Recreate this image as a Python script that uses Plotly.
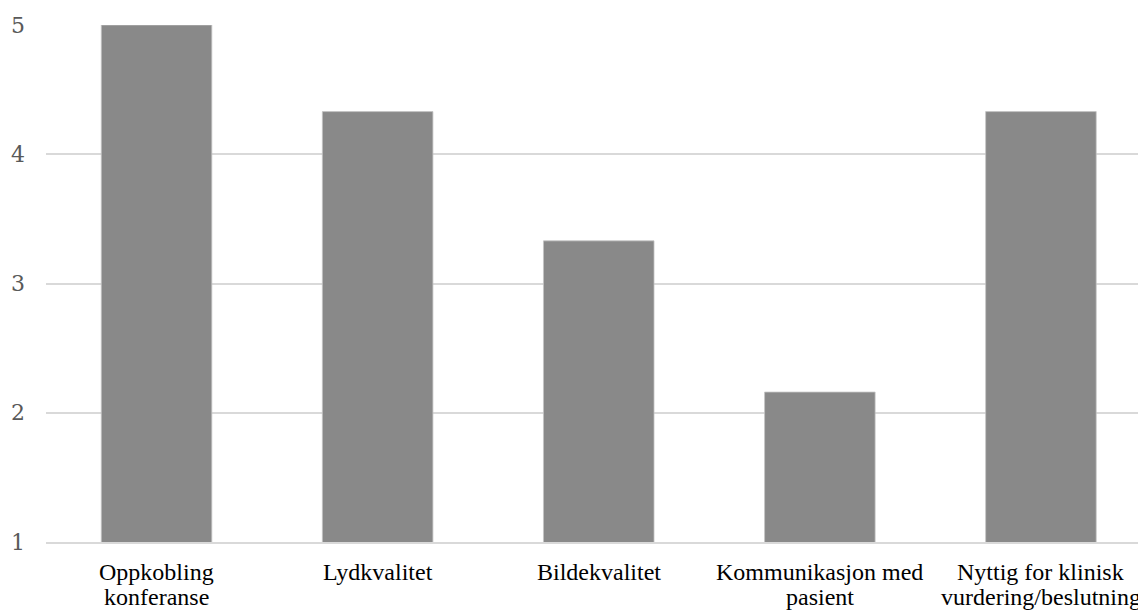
import plotly.graph_objects as go

categories = ["Oppkobling konferanse", "Lydkvalitet", "Bildekvalitet",
              "Kommunikasjon med pasient", "Nyttig for klinisk vurdering/beslutning"]
label_lines = [["Oppkobling", "konferanse"], ["Lydkvalitet"], ["Bildekvalitet"],
               ["Kommunikasjon med", "pasient"], ["Nyttig for klinisk", "vurdering/beslutning"]]
values = [5.0, 4.33, 3.33, 2.16, 4.33]
y_ticks = [1, 2, 3, 4, 5]

fig = go.Figure(go.Bar(
    x=categories, y=values,
    marker=dict(color="#898989", line=dict(color="#c4c4c4", width=0.8)),
    base=0,
))

annotations = []
for cat, lines in zip(categories, label_lines):
    for i, line in enumerate(lines):
        annotations.append(dict(
            x=cat, xref="x", y=0, yref="paper", yanchor="top", xanchor="center",
            yshift=-15 - 25 * i, text=line, showarrow=False,
            font=dict(family="Liberation Serif", size=24, color="#000000"),
        ))

fig.update_layout(
    width=1138, height=610,
    margin=dict(l=46, r=0, t=25, b=68),
    paper_bgcolor="white", plot_bgcolor="white",
    bargap=0.5, showlegend=False,
    annotations=annotations,
    xaxis=dict(type="category", range=[-0.5, 4.439], showticklabels=False,
               showgrid=False, showline=True, linecolor="#d9d9d9", linewidth=1.5,
               ticks=""),
    yaxis=dict(range=[1, 5], tickvals=y_ticks, showgrid=True, gridcolor="#d9d9d9",
               gridwidth=1.5, zeroline=False, showline=False, ticks="",
               ticklabelstandoff=20,
               tickfont=dict(family="DejaVu Serif", size=22, color="#595959")),
)

fig.write_html("out.html")
